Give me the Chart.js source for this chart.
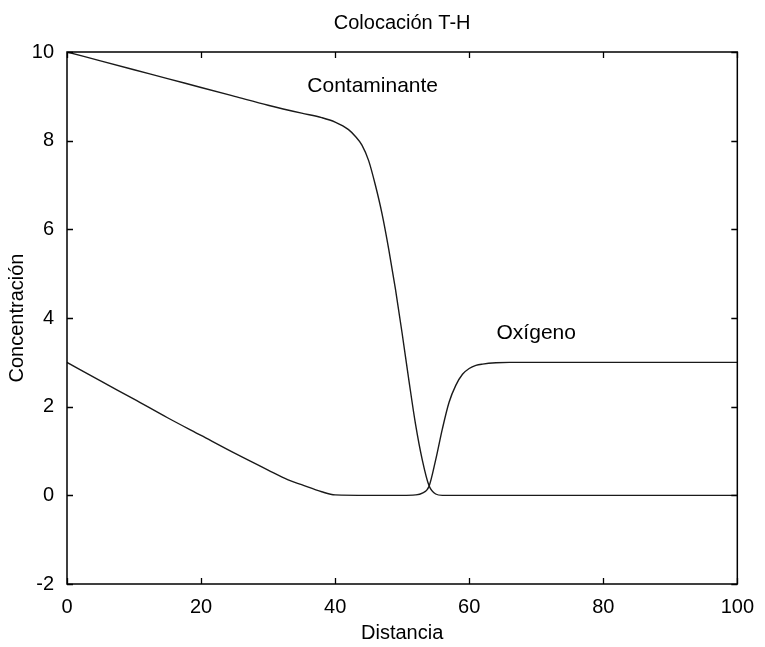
<!DOCTYPE html>
<html>
<head>
<meta charset="utf-8">
<script src="https://cdn.jsdelivr.net/npm/chart.js@4/dist/chart.umd.min.js"></script>
<style>
  html, body { margin: 0; padding: 0; background: #fff; }
  #wrap { width: 765px; height: 647px; }
</style>
</head>
<body>
<div id="wrap"><canvas id="c" width="765" height="647"></canvas></div>
<script>
// Concentration profiles along the distance axis
const contaminanteX = [0, 5, 10, 15, 20, 25, 30, 35, 38, 40, 42, 43, 44, 45, 46, 47, 48, 49, 50, 51, 52, 53, 54, 55, 56, 60, 70, 80, 90, 100];
const contaminanteY = [10, 9.8, 9.6, 9.4, 9.2, 9.0, 8.8, 8.62, 8.52, 8.42, 8.25, 8.1, 7.9, 7.55, 7.0, 6.35, 5.55, 4.65, 3.65, 2.6, 1.6, 0.8, 0.22, 0.03, 0, 0, 0, 0, 0, 0];

const oxigenoX = [0, 5, 10, 15, 20, 25, 30, 33, 35, 38, 40, 45, 50, 52, 53, 54, 55, 56, 57, 58, 59, 60, 61, 62, 64, 66, 70, 80, 90, 100];
const oxigenoY = [3.0, 2.58, 2.17, 1.75, 1.35, 0.95, 0.57, 0.35, 0.24, 0.08, 0.01, 0, 0, 0.01, 0.05, 0.2, 0.8, 1.5, 2.1, 2.48, 2.73, 2.86, 2.93, 2.96, 2.99, 3.0, 3.0, 3.0, 3.0, 3.0];

const xTicks = [0, 20, 40, 60, 80, 100];
const yTicks = [-2, 0, 2, 4, 6, 8, 10];

const chartTitle = 'Colocación T-H';

// Curve labels placed in data coordinates
const curveLabels = [
  { text: 'Contaminante', x: 45.6, y: 9.22 },
  { text: 'Oxígeno', x: 70, y: 3.65 }
];

const FONT = 'Liberation Sans, Arial, sans-serif';

const toPoints = (xs, ys) => xs.map((x, i) => ({ x, y: ys[i] }));

// Box frame with inward ticks on all four sides, title centred over the plot, curve labels
const framePlugin = {
  id: 'frame',
  afterDatasetsDraw(chart) {
    const { ctx, chartArea: a, scales } = chart;
    const xs = scales.x, ys = scales.y;
    const L = 6;
    ctx.save();
    ctx.strokeStyle = '#000';
    ctx.lineWidth = 1.5;
    ctx.strokeRect(a.left, a.top, a.right - a.left, a.bottom - a.top);
    ctx.lineWidth = 1.3;
    ctx.beginPath();
    xTicks.forEach(v => {
      const px = Math.round(xs.getPixelForValue(v)) + 0.5;
      ctx.moveTo(px, a.bottom); ctx.lineTo(px, a.bottom - L);
      ctx.moveTo(px, a.top); ctx.lineTo(px, a.top + L);
    });
    yTicks.forEach(v => {
      const py = Math.round(ys.getPixelForValue(v)) + 0.5;
      ctx.moveTo(a.left, py); ctx.lineTo(a.left + L, py);
      ctx.moveTo(a.right, py); ctx.lineTo(a.right - L, py);
    });
    ctx.stroke();

    ctx.fillStyle = '#000';
    ctx.textAlign = 'center';
    ctx.textBaseline = 'middle';
    ctx.font = '20px ' + FONT;
    ctx.fillText(chartTitle, (a.left + a.right) / 2, 23);

    ctx.font = '21px ' + FONT;
    curveLabels.forEach(l => {
      ctx.fillText(l.text, xs.getPixelForValue(l.x), ys.getPixelForValue(l.y));
    });
    ctx.restore();
  }
};

new Chart(document.getElementById('c'), {
  type: 'line',
  data: {
    datasets: [
      {
        label: 'Contaminante',
        data: toPoints(contaminanteX, contaminanteY),
        borderColor: '#1a1a1a',
        borderWidth: 1.4,
        pointRadius: 0,
        fill: false,
        cubicInterpolationMode: 'monotone'
      },
      {
        label: 'Oxígeno',
        data: toPoints(oxigenoX, oxigenoY),
        borderColor: '#1a1a1a',
        borderWidth: 1.4,
        pointRadius: 0,
        fill: false,
        cubicInterpolationMode: 'monotone'
      }
    ]
  },
  options: {
    responsive: false,
    animation: false,
    layout: { padding: { left: 0, right: 25, top: 52, bottom: 0 } },
    plugins: {
      legend: { display: false },
      tooltip: { enabled: false },
      title: { display: false }
    },
    scales: {
      x: {
        type: 'linear',
        min: 0,
        max: 100,
        afterBuildTicks: s => { s.ticks = xTicks.map(v => ({ value: v })); },
        afterFit: s => { s.height = 63; },
        grid: { display: false, drawTicks: false },
        border: { display: false },
        ticks: {
          color: '#000',
          font: { family: FONT, size: 20 },
          padding: 11,
          maxRotation: 0
        },
        title: {
          display: true,
          text: 'Distancia',
          color: '#000',
          font: { family: FONT, size: 20 },
          padding: { top: 0, bottom: 2 }
        }
      },
      y: {
        type: 'linear',
        min: -2,
        max: 10,
        afterBuildTicks: s => { s.ticks = yTicks.map(v => ({ value: v })); },
        afterFit: s => { s.width = 67; },
        grid: { display: false, drawTicks: false },
        border: { display: false },
        ticks: {
          color: '#000',
          font: { family: FONT, size: 20 },
          padding: 13
        },
        title: {
          display: true,
          text: 'Concentración',
          color: '#000',
          font: { family: FONT, size: 20 },
          padding: { top: 5, bottom: 0 }
        }
      }
    }
  },
  plugins: [framePlugin]
});
</script>
</body>
</html>
